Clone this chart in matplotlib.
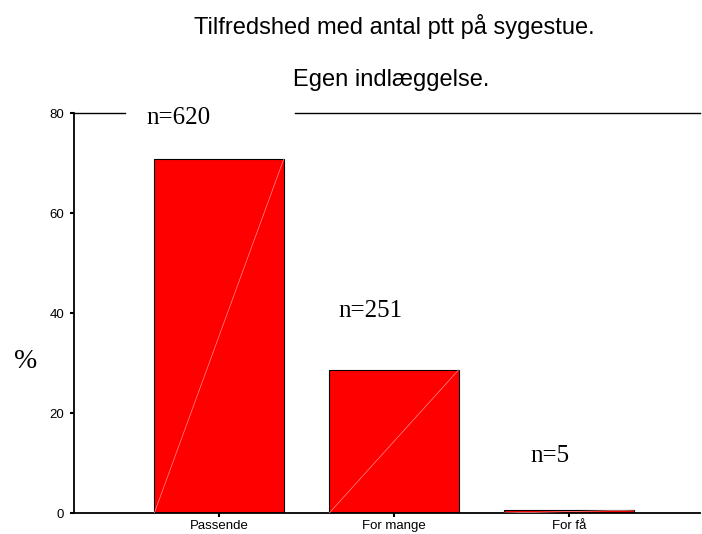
import matplotlib
matplotlib.use("Agg")
import matplotlib.pyplot as plt

categories = ["Passende", "For mange", "For få"]
counts = [620, 251, 5]
total = sum(counts)
percents = [c / total * 100 for c in counts]
labels = ["n=620", "n=251", "n=5"]
label_pos = [(-0.231, 77.8), (0.863, 39.2), (1.891, 10.2)]
yticks = [0, 20, 40, 60, 80]

fig = plt.figure(figsize=(7.02, 5.34), dpi=100)
ax = fig.add_axes([74/702, 1 - 513/534, 626/702, 400/534])

x = list(range(len(categories)))
w = 0.74
ax.bar(x, percents, width=w, color="#ff0000", edgecolor="black", linewidth=0.8, zorder=2)
for xi, p in zip(x, percents):
    ax.plot([xi - w/2, xi + w/2], [0, p], color="#ff9090", lw=0.5, zorder=3)

ax.set_xlim(-0.829, 2.749)
ax.set_ylim(0, 80)
ax.set_xticks(x)
ax.set_xticklabels(categories, fontsize=9.5, family="Liberation Sans")
ax.set_yticks(yticks)
ax.set_yticklabels([str(t) for t in yticks], fontsize=9.5, family="Liberation Sans")
ax.tick_params(axis="both", length=3, width=1.5, direction="out")
ax.tick_params(axis="x", pad=2)
ax.tick_params(axis="y", pad=4)

for s in ["top", "right"]:
    ax.spines[s].set_visible(False)
ax.spines["left"].set_linewidth(1.3)
ax.spines["bottom"].set_linewidth(1.3)
# partial top frame line
ax.plot([0, 0.081], [1, 1], transform=ax.transAxes, color="black", lw=1, clip_on=False)
ax.plot([0.353, 1], [1, 1], transform=ax.transAxes, color="black", lw=1, clip_on=False)

for lab, (lx, ly) in zip(labels, label_pos):
    ax.text(lx, ly, lab, ha="center", va="baseline", fontsize=18, family="Liberation Serif")

fig.text(26/702, 1 - 361/534, "%", ha="center", va="center", fontsize=20, family="Liberation Serif")

fig.text(394/702, 1 - 34/534, "Tilfredshed med antal ptt på sygestue.", ha="center", va="baseline",
         fontsize=17, family="Liberation Sans")
fig.text(391/702, 1 - 86/534, "Egen indlæggelse.", ha="center", va="baseline",
         fontsize=17, family="Liberation Sans")

fig.savefig("out.png", dpi=100)
